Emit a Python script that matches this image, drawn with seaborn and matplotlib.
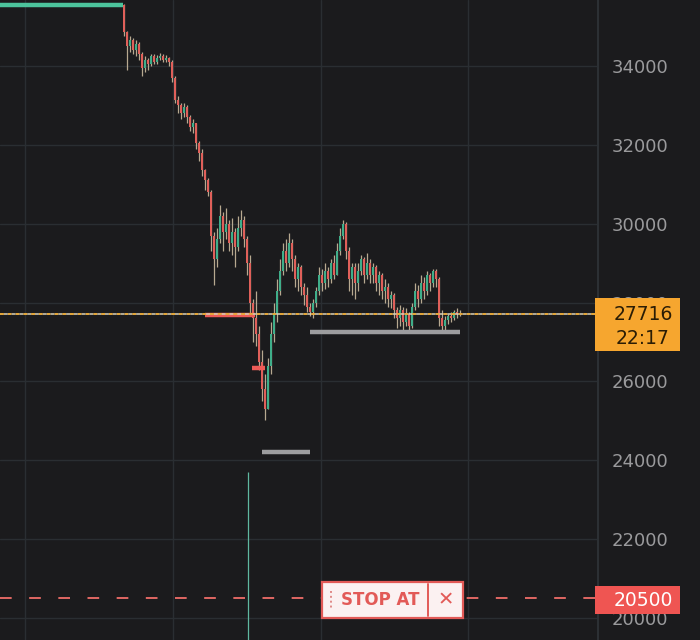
import matplotlib
matplotlib.use("Agg")
import matplotlib.pyplot as plt
import seaborn as sns
import pandas as pd
from matplotlib.patches import Rectangle

# candle data (open of each candle = previous close)
first_open = 35550
closes = [34850, 34500, 34650, 34400, 34550, 34300, 33950, 34150, 34050, 34250,
          34100, 34200, 34250, 34150, 34200, 34100, 33700, 33150, 33000, 32800,
          32950, 32700, 32450, 32550, 32050, 31800, 31350, 31100, 30800, 29700,
          29100, 29600, 30200, 29800, 30000, 29500, 29800, 29400, 29900, 30100,
          29600, 29000, 28000, 27600, 27200, 26500, 25800, 25300, 26400, 27200,
          27700, 28300, 28800, 29300, 29000, 29500, 29100, 28600, 28900, 28400,
          28200, 27900, 27750, 28000, 28300, 28700, 28500, 28800, 28600, 29000,
          28700, 29300, 29700, 30000, 29300, 28600, 28900, 28500, 28800, 29100,
          28700, 29000, 28700, 28900, 28500, 28700, 28300, 28400, 28100, 28200,
          27800, 27600, 27800, 27500, 27700, 27400, 27900, 28300, 28100, 28500,
          28300, 28700, 28500, 28800, 28600, 27600, 27400, 27550, 27650, 27600,
          27750, 27700, 27716]
highs = [35560, 34900, 34750, 34700, 34650, 34600, 34350, 34250, 34200, 34300,
         34300, 34280, 34320, 34300, 34280, 34220, 34150, 33750, 33250, 33050,
         33050, 33000, 32750, 32650, 32550, 32100, 31900, 31400, 31150, 30850,
         29800, 29900, 30470, 30300, 30400, 30100, 30150, 29900, 30200, 30350,
         30200, 29700, 29200, 28100, 28300, 27400, 26800, 26200, 26600, 27500,
         28000, 28600, 29100, 29500, 29600, 29760, 29600, 29200, 29000, 28950,
         28500, 28400, 28000, 28100, 28400, 28900, 28850, 29000, 28900, 29100,
         29200, 29500, 29900, 30100, 30050, 29400, 29000, 29000, 29000, 29200,
         29150, 29250, 29100, 29000, 28950, 28800, 28750, 28600, 28500, 28300,
         28250, 27900, 27950, 27900, 27850, 27750, 28000, 28500, 28450, 28700,
         28650, 28800, 28750, 28850, 28850, 28650, 27800, 27650, 27700, 27750,
         27800, 27850, 27800]
lows = [34750, 33900, 34350, 34300, 34250, 34150, 33750, 33850, 33900, 34000,
        34050, 34050, 34150, 34100, 34100, 34000, 33600, 33050, 32800, 32650,
        32700, 32550, 32350, 32300, 31900, 31600, 31200, 30850, 30700, 29300,
        28450, 28900, 29500, 29300, 29600, 29300, 29200, 28900, 29300, 29700,
        29400, 28700, 27700, 27000, 26900, 26300, 25500, 25020, 25300, 26200,
        27000, 27500, 28200, 28700, 28800, 28900, 28800, 28400, 28300, 28200,
        27950, 27750, 27650, 27620, 27900, 28200, 28300, 28350, 28400, 28500,
        28600, 28700, 29200, 29600, 29100, 28300, 28200, 28100, 28300, 28700,
        28500, 28600, 28500, 28500, 28300, 28200, 28100, 28000, 27900, 27850,
        27600, 27350, 27400, 27300, 27400, 27300, 27350, 27800, 27900, 28000,
        28100, 28200, 28300, 28400, 28400, 27400, 27250, 27300, 27450, 27500,
        27550, 27600, 27650]

y_ticks = [20000, 22000, 24000, 26000, 28000, 30000, 32000, 34000]
last_price = 27716
last_time = "22:17"
stop_price = 20500

# horizontal level markers: (price, start candle, end candle, colour)
levels = pd.DataFrame({
    "price": [35550, 27690, 26340, 24210, 27250],
    "x0": [-42, 27, 42.7, 46, 62],
    "x1": [-0.3, 43.7, 47, 62, 112],
    "color": ["#4cc49c", "#ee5b57", "#ee5b57", "#9d9d9f", "#9d9d9f"],
})

BG = "#1b1b1d"
GRID = "#2a2e32"
UP = "#3fae8a"
DOWN = "#e0605a"
WICK = "#c9b99e"

sns.set_theme(style="dark", rc={"axes.facecolor": BG, "figure.facecolor": BG})
plt.rcParams["font.family"] = ["DejaVu Sans"]

fig = plt.figure(figsize=(7, 6.4), dpi=100)
ax = fig.add_axes([0, 0, 598 / 700, 1])
ax.set_facecolor(BG)

idx = list(range(len(closes)))
opens = [first_open] + closes[:-1]
df = pd.DataFrame({"i": idx, "open": opens, "close": closes, "high": highs, "low": lows})
df["up"] = df["close"] >= df["open"]

ax.vlines(df["i"], df["low"], df["high"], colors=WICK, lw=0.9, zorder=3, alpha=0.9)
body_bottom = df[["open", "close"]].min(axis=1)
body_h = (df["close"] - df["open"]).abs().clip(lower=30)
ax.bar(df["i"], body_h, bottom=body_bottom, width=0.55,
       color=[UP if u else DOWN for u in df["up"]], lw=0, zorder=4)

# level markers
for _, r in levels.iterrows():
    seg = pd.DataFrame({"x": [r.x0, r.x1], "y": [r.price, r.price]})
    sns.lineplot(data=seg, x="x", y="y", color=r.color, lw=3.2, ax=ax,
                 zorder=5, solid_capstyle="butt")

# current price dotted line
ax.axhline(last_price, color="#e8a93a", lw=1.4, ls=(0, (2, 2)), zorder=6)
ax.axhline(last_price, color="#d8d0b8", lw=1.4, ls=(2, (2, 2)), zorder=6, alpha=0.8)

# stop line
ax.axhline(stop_price, color="#e06863", lw=1.4, ls=(0, (6, 9)), zorder=6)

# thin vertical marker
ax.vlines(41.33, 19000, 23700, colors="#5fb8a0", lw=0.9, zorder=2)

ax.set_xlim(-41.33, 158)
ax.set_ylim(19442, 35674)
ax.set_xlabel("")
ax.set_ylabel("")
ax.set_xticks([-33, 16.33, 65.67, 114.67])
ax.set_yticks(y_ticks)
ax.set_yticklabels([str(t) for t in y_ticks])
ax.yaxis.tick_right()
ax.tick_params(axis="y", length=0, pad=10, labelsize=13, labelcolor="#9a9a9c")
ax.tick_params(axis="x", length=0, labelbottom=False)
ax.grid(True, color=GRID, lw=1)
for s in ["left", "top", "bottom"]:
    ax.spines[s].set_visible(False)
ax.spines["right"].set_color("#2c3034")
ax.spines["right"].set_linewidth(1.5)

# price label boxes on the axis (figure pixel coords)
W, H = 700, 640
def fig_box(x0, y0, x1, y1, color):
    fig.patches.append(Rectangle((x0 / W, 1 - y1 / H), (x1 - x0) / W, (y1 - y0) / H,
                                 transform=fig.transFigure, facecolor=color,
                                 edgecolor="none", zorder=10))

fig_box(595, 298, 680, 351, "#f6a62f")
fig.text(643 / W, 1 - 315 / H, str(last_price), color="#2b1d05", fontsize=13.5,
         ha="center", va="center", zorder=11)
fig.text(643 / W, 1 - 338 / H, last_time, color="#2b1d05", fontsize=13.5,
         ha="center", va="center", zorder=11)

fig_box(595, 586, 680, 614, "#ef5552")
fig.text(643 / W, 1 - 600 / H, str(stop_price), color="white", fontsize=13.5,
         ha="center", va="center", zorder=11)

# STOP AT tag
fig.patches.append(Rectangle((322 / W, 1 - 618 / H), 141 / W, 36 / H,
                             transform=fig.transFigure, facecolor="#fbf1f1",
                             edgecolor="#e25a57", lw=1.6, zorder=10))
fig.lines.append(plt.Line2D([428 / W, 428 / W], [1 - 584 / H, 1 - 616 / H],
                            transform=fig.transFigure, color="#e25a57", lw=1.4, zorder=11))
fig.lines.append(plt.Line2D([331 / W, 331 / W], [1 - 591 / H, 1 - 610 / H],
                            transform=fig.transFigure, color="#e08a88", lw=1.4,
                            ls=(0, (1, 1.5)), zorder=11))
fig.text(380 / W, 1 - 600 / H, "STOP AT", color="#e25a57", fontsize=12,
         fontweight="bold", ha="center", va="center", zorder=11)
fig.text(446 / W, 1 - 600 / H, "\u2715", color="#e25a57", fontsize=14,
         ha="center", va="center", zorder=11)

fig.savefig("out.png", dpi=100, facecolor=BG)
